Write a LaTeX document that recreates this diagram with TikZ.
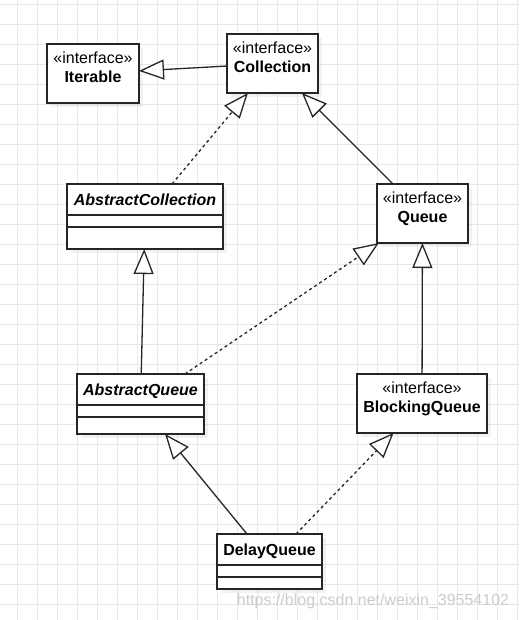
\documentclass[tikz,border=0pt]{standalone}
\usepackage{fontspec}
\setmainfont{Liberation Sans}
\usepackage{tikz}
\usetikzlibrary{
  arrows.meta,
  chains,
  positioning,
  scopes,
  shadows
}

\begin{document}
\begin{tikzpicture}[
      x=1pt, y=-1pt,
      box/.style={
         rectangle,
         draw=black!85,
         line width=1.4pt,
         fill=white,
         inner sep=0pt,
         outer sep=0pt,
         minimum height=59pt
      },
      shadowed/.style={
         drop shadow={shadow xshift=4pt, shadow yshift=-4pt, opacity=0.1}
      },
      compartment/.style={
         box,
         minimum height=#1
      },
      stereotype/.style={
         align=center,
         inner sep=0pt,
         font=\fontsize{16}{19}\selectfont
      },
      classname/.style={
         compartment=31pt,
         text height=11.6pt,
         text depth=0pt,
         font=\fontsize{16}{19}\selectfont\bfseries
      },
      gridline/.style={draw=black!9, line width=0.8pt},
      >={Triangle[length=25pt, width=20pt, fill=white]},
      tip/.style={->, line width=1.3pt, draw=black!85},
      dash tip/.style={tip, dash pattern=on 3pt off 3pt}
    ]
    % backdrop
    \useasboundingbox (0,0) rectangle (519,620);
    \fill[white] (0,0) rectangle (519,620);
    \foreach \gx in {17,37,...,517}
       \draw[gridline] (\gx,0) -- (\gx,620);
    \foreach \gy in {4,24,...,604}
       \draw[gridline] (0,\gy) -- (519,\gy);

    \node (n11) [box, shadowed, minimum width=92pt] at (93,73.5) {};
    \node (n11t) [stereotype, below=8pt of n11.north] {«interface»\\\textbf{Iterable}};
    \node (n12) [box, shadowed, minimum width=91pt] at (272.5,63.5) {};
    \node (n12t) [stereotype, below=8pt of n12.north] {«interface»\\\textbf{Collection}};

    \node (n21) [box, shadowed, minimum width=156pt, minimum height=65pt] at (145,216.5) {};
    \node (n21a) [classname, minimum width=156pt, below=0pt of n21.north] {\itshape AbstractCollection};
    \node (n21b) [compartment=12pt, minimum width=156pt, below=0pt of n21a] {};
    \node (n23) [box, shadowed, minimum width=91pt] at (422.5,213.5) {};
    \node (n23t) [stereotype, below=8pt of n23.north] {«interface»\\\textbf{Queue}};

    \node (n31) [box, shadowed, minimum width=127pt, minimum height=60pt] at (140.5,404) {};
    \node (n31a) [classname, minimum width=127pt, below=0pt of n31.north] {\itshape AbstractQueue};
    \node (n31b) [compartment=12pt, minimum width=127pt, below=0pt of n31a] {};
    \node (n33) [box, shadowed, minimum width=130pt] at (422,403.5) {};
    \node (n33t) [stereotype, below=8pt of n33.north] {«interface»\\\textbf{BlockingQueue}};

    \node (n42) [box, shadowed, minimum width=105pt, minimum height=55pt] at (269.5,561.5) {};
    \node (n42a) [classname, minimum width=105pt, below=0pt of n42.north] {DelayQueue};
    \node (n42b) [compartment=12pt, minimum width=105pt, below=0pt of n42a] {};

    \node (wm) [text=black!20, inner sep=0pt, font=\fontsize{16}{19}\selectfont] at (373,601) {https://blog.csdn.net/weixin\_39554102};

  { [start chain]
       \chainin (n12);
       \chainin (n11)    [join=by tip];
  }
  { [start chain]
       \chainin (n21);
       \chainin (n12)    [join=by dash tip];
  }
  { [start chain]
       \chainin (n23);
       \chainin (n12)    [join=by tip];
  }
  { [start chain]
       \chainin (n31);
       \chainin (n21)    [join=by tip];
  }
  { [start chain]
       \chainin (n31);
       \chainin (n23)    [join=by dash tip];
  }
  { [start chain]
       \chainin (n33);
       \chainin (n23)    [join=by tip];
  }
  { [start chain]
       \chainin (n42);
       \chainin (n31)    [join=by tip];
  }
  { [start chain]
       \chainin (n42);
       \chainin (n33)    [join=by dash tip];
  }
\end{tikzpicture}
\end{document}
